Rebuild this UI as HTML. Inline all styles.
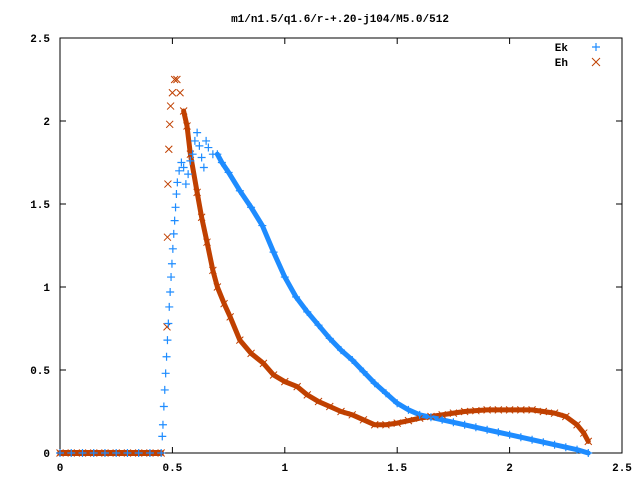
<!DOCTYPE html>
<html><head><meta charset="utf-8"><style>
body{margin:0;background:#fff}
svg{display:block}
text{font-family:"Liberation Mono",monospace;font-size:11px;font-weight:bold;fill:#000}
</style></head><body>
<svg id="chart" width="640" height="480" viewBox="0 0 640 480" xmlns="http://www.w3.org/2000/svg">
<rect width="640" height="480" fill="#fff"/>
<text x="340" y="22" text-anchor="middle">m1/n1.5/q1.6/r-+.20-j104/M5.0/512</text>
<g id="axes"></g>
<g id="series"></g>
<g>
<text x="568" y="51" text-anchor="end">Ek</text>
<path d="M592 47h8M596 43v8" stroke="#1e8cff" stroke-width="1.2"/>
<text x="568" y="66" text-anchor="end">Eh</text>
<path d="M592 58l8 8M600 58l-8 8" stroke="#c04000" stroke-width="1"/>
</g>
</svg>
<script>
const xTicks=[0,0.5,1,1.5,2,2.5];
const yTicks=[0,0.5,1,1.5,2,2.5];
const xTickLabels=["0","0.5","1","1.5","2","2.5"];
const yTickLabels=["0","0.5","1","1.5","2","2.5"];
const ekX=[0,0.05,0.1,0.15,0.2,0.25,0.3,0.35,0.4,0.45,0.455,0.458,0.462,0.466,0.47,0.474,0.478,0.482,0.486,0.49,0.494,0.498,0.502,0.506,0.51,0.514,0.518,0.522,0.53,0.54,0.55,0.56,0.57,0.58,0.59,0.6,0.61,0.62,0.63,0.64,0.65,0.66,0.68,0.7,0.72,0.75,0.8,0.85,0.9,0.95,1.0,1.05,1.1,1.15,1.2,1.25,1.3,1.35,1.4,1.45,1.5,1.55,1.6,1.65,1.7,1.75,1.8,1.85,1.9,1.95,2.0,2.05,2.1,2.15,2.2,2.25,2.3,2.35];
const ekY=[0,0,0,0,0,0,0,0,0,0,0.1,0.17,0.28,0.38,0.48,0.58,0.68,0.78,0.88,0.97,1.06,1.14,1.23,1.32,1.40,1.48,1.56,1.63,1.70,1.75,1.72,1.62,1.68,1.76,1.80,1.88,1.93,1.85,1.78,1.72,1.88,1.84,1.80,1.80,1.75,1.69,1.58,1.48,1.37,1.21,1.06,0.94,0.85,0.77,0.69,0.62,0.56,0.49,0.42,0.36,0.30,0.26,0.23,0.215,0.20,0.185,0.17,0.155,0.14,0.125,0.11,0.095,0.08,0.065,0.05,0.035,0.02,0];
const ehX=[0,0.05,0.1,0.15,0.2,0.25,0.3,0.35,0.4,0.45,0.476,0.478,0.48,0.484,0.488,0.492,0.5,0.51,0.52,0.534,0.55,0.565,0.58,0.61,0.63,0.654,0.68,0.7,0.73,0.757,0.8,0.85,0.905,0.95,1.0,1.055,1.1,1.15,1.2,1.25,1.3,1.35,1.4,1.45,1.5,1.55,1.6,1.65,1.7,1.75,1.8,1.85,1.9,1.95,2.0,2.05,2.1,2.15,2.2,2.25,2.3,2.33,2.35];
const ehY=[0,0,0,0,0,0,0,0,0,0,0.76,1.30,1.62,1.83,1.98,2.09,2.17,2.25,2.25,2.17,2.06,1.97,1.8,1.57,1.42,1.27,1.1,1.0,0.9,0.82,0.68,0.6,0.54,0.47,0.43,0.40,0.35,0.31,0.28,0.25,0.23,0.2,0.17,0.17,0.18,0.195,0.21,0.22,0.23,0.24,0.25,0.255,0.26,0.26,0.26,0.26,0.26,0.25,0.24,0.22,0.17,0.12,0.07];
const NS="http://www.w3.org/2000/svg";
const X0=60,X1=622,Y0=453,Y1=38;
function sx(v){return X0+(v-0)/(2.5-0)*(X1-X0);}
function sy(v){return Y0-(v-0)/(2.5-0)*(Y0-Y1);}
function mk(tag,attrs,parent){const e=document.createElementNS(NS,tag);for(const k in attrs)e.setAttribute(k,attrs[k]);parent.appendChild(e);return e;}
const axes=document.getElementById('axes');
const frame=mk('rect',{x:X0,y:Y1,width:X1-X0,height:Y0-Y1,fill:'none',stroke:'#000','stroke-width':1},axes);


xTicks.forEach((t,i)=>{
  const p=mk('path',{d:`M${sx(t)} ${Y0}v-6M${sx(t)} ${Y1}v6`,stroke:'#000','stroke-width':1},axes);
  
  
  const l=mk('text',{x:sx(t),y:Y0+18,'text-anchor':'middle'},axes);
  l.textContent=xTickLabels[i];
  
  
});
yTicks.forEach((t,i)=>{
  const p=mk('path',{d:`M${X0} ${sy(t)}h6M${X1} ${sy(t)}h-6`,stroke:'#000','stroke-width':1},axes);
  
  
  const l=mk('text',{x:X0-10,y:sy(t)+4,'text-anchor':'end'},axes);
  l.textContent=yTickLabels[i];
  
  
});
const ser=document.getElementById('series');
function band(xs,ys,minX,maxX,color,name,w){
  let pts=[];
  xs.forEach((x,i)=>{if(x>=minX&&x<=maxX)pts.push(sx(x)+','+sy(ys[i]));});
  const pl=mk('polyline',{points:pts.join(' '),fill:'none',stroke:color,'stroke-width':w,'stroke-linejoin':'round','stroke-linecap':'round'},ser);
  
  
}
band(ehX,ehY,0,0.45,'#c04000','eh-zero-band',6);
band(ehX,ehY,0.55,2.35,'#c04000','eh-band',5);
band(ekX,ekY,0.7,2.35,'#1e8cff','ek-band',5);
ehX.forEach((x,i)=>{
  const cx=sx(x),cy=sy(ehY[i]);
  const p=mk('path',{d:`M${cx-3.5} ${cy-3.5}l7 7M${cx+3.5} ${cy-3.5}l-7 7`,stroke:'#c04000','stroke-width':1},ser);
  
  
});
ekX.forEach((x,i)=>{
  const cx=sx(x),cy=sy(ekY[i]);
  const p=mk('path',{d:`M${cx-4} ${cy}h8M${cx} ${cy-4}v8`,stroke:'#1e8cff','stroke-width':1.2},ser);
  
  
});
</script>
</body></html>
